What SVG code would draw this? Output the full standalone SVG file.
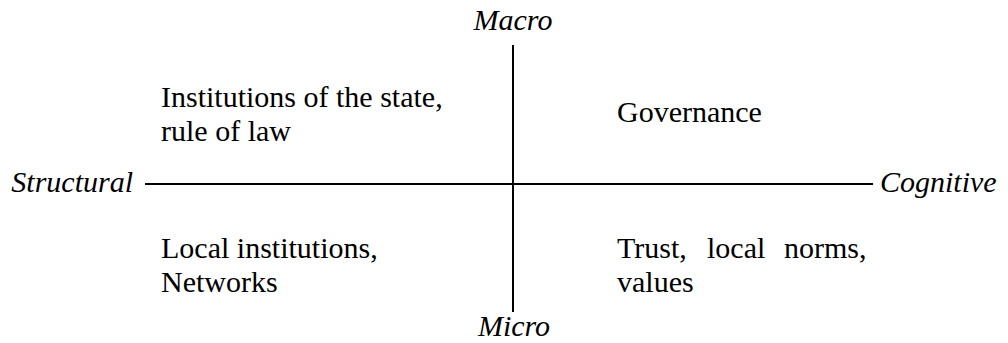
<svg xmlns="http://www.w3.org/2000/svg" width="1008" height="343" viewBox="0 0 1008 343">
  <style>
    .axis { stroke: #000; stroke-width: 2; fill: none; }
    .lbl { font-family: "Liberation Serif", "Times New Roman", serif; font-size: 30px; fill: #000; }
    .pole { font-style: italic; }
  </style>
  <rect width="1008" height="343" fill="#fff"/>
  <!-- axes -->
  <g id="connectors">
    <line class="axis" x1="513" y1="45" x2="513" y2="312"/>
    <line class="axis" x1="145" y1="184" x2="873" y2="184"/>
  </g>
  <!-- pole labels -->
  <g id="macro"><text class="lbl pole" x="513" y="30" text-anchor="middle">Macro</text></g>
  <g id="micro"><text class="lbl pole" x="514" y="336" text-anchor="middle">Micro</text></g>
  <g id="structural"><text class="lbl pole" x="133" y="192" text-anchor="end">Structural</text></g>
  <g id="cognitive"><text class="lbl pole" x="880" y="192">Cognitive</text></g>
  <!-- quadrant contents -->
  <g id="q-structural-macro">
    <text class="lbl" x="161" y="107">Institutions of the state,</text>
    <text class="lbl" x="161" y="141">rule of law</text>
  </g>
  <g id="q-cognitive-macro">
    <text class="lbl" x="617" y="122">Governance</text>
  </g>
  <g id="q-structural-micro">
    <text class="lbl" x="161" y="258">Local institutions,</text>
    <text class="lbl" x="161" y="292">Networks</text>
  </g>
  <g id="q-cognitive-micro">
    <!-- justified first line: words placed across the column -->
    <text class="lbl" y="258"><tspan x="617">Trust,</tspan><tspan x="707">local</tspan><tspan x="784">norms,</tspan></text>
    <text class="lbl" x="617" y="292">values</text>
  </g>
</svg>
